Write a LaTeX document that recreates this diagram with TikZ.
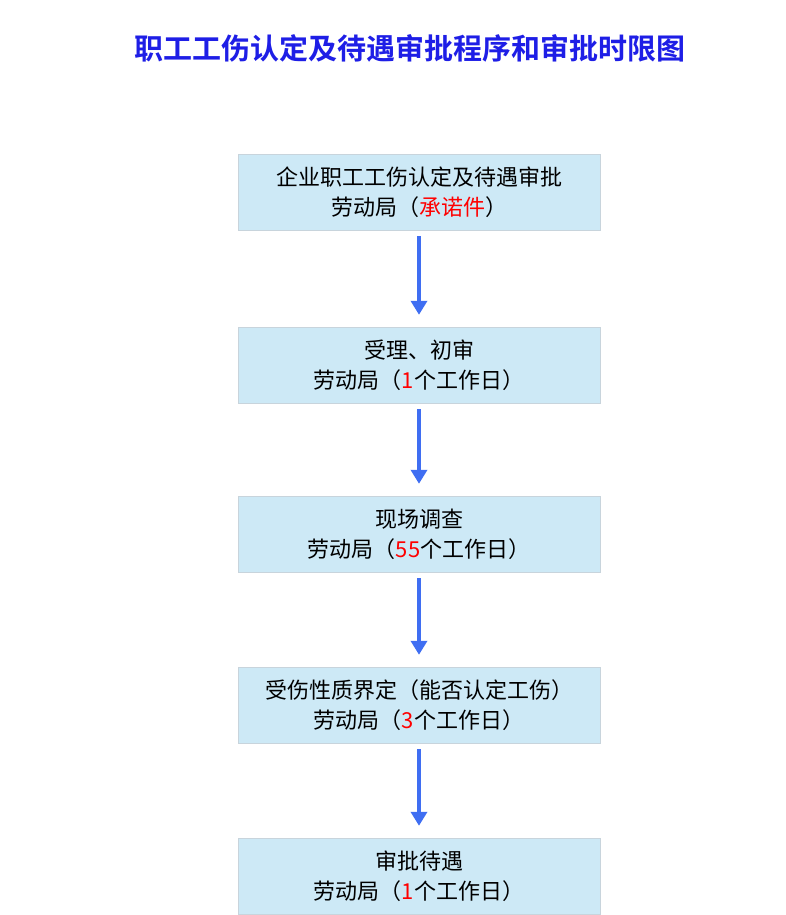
\documentclass[tikz,border=0pt]{standalone}
\usepackage{fontspec}
\setmainfont{Noto Sans CJK SC}
\newfontfamily\titlefont{Noto Sans CJK SC Bold}
\usetikzlibrary{arrows.meta}
\definecolor{boxblue}{HTML}{CDE9F6}
\definecolor{boxline}{HTML}{C8D4DC}
\definecolor{arrowblue}{HTML}{3F6EF2}
\definecolor{titleblue}{HTML}{1E1EE6}
\tikzset{
  stepbox/.style={draw=boxline,fill=boxblue,minimum width=362pt,minimum height=76pt,
    align=center,font=\fontsize{22pt}{30pt}\selectfont},
  flow/.style={draw=arrowblue,line width=4pt,shorten <=6pt,shorten >=12pt,
    -{Triangle[length=14pt,width=16pt]}}
}
\newcommand{\hl}[1]{\textcolor{red}{#1}}
\begin{document}
\begin{tikzpicture}[x=1pt,y=-1pt]
  \useasboundingbox (0,0) rectangle (785,915);
  \node (title) at (410,48) {\titlefont\color{titleblue}\fontsize{29pt}{32pt}\selectfont 职工工伤认定及待遇审批程序和审批时限图};
  \begin{scope}[every node/.style={stepbox}]
    \node (apply) at (419,192) {企业职工工伤认定及待遇审批\\劳动局（\hl{承诺件}）};
    \node (accept) at (419,365) {受理、初审\\劳动局（\hl{1}个工作日）};
    \node (survey) at (419,534) {现场调查\\劳动局（\hl{55}个工作日）};
    \node (judge) at (419,705) {受伤性质界定（能否认定工伤）\\劳动局（\hl{3}个工作日）};
    \node (approve) at (419,876) {审批待遇\\劳动局（\hl{1}个工作日）};
  \end{scope}
  \draw[flow] (apply) -- (accept);
  \draw[flow] (accept) -- (survey);
  \draw[flow] (survey) -- (judge);
  \draw[flow] (judge) -- (approve);
\end{tikzpicture}
\end{document}
